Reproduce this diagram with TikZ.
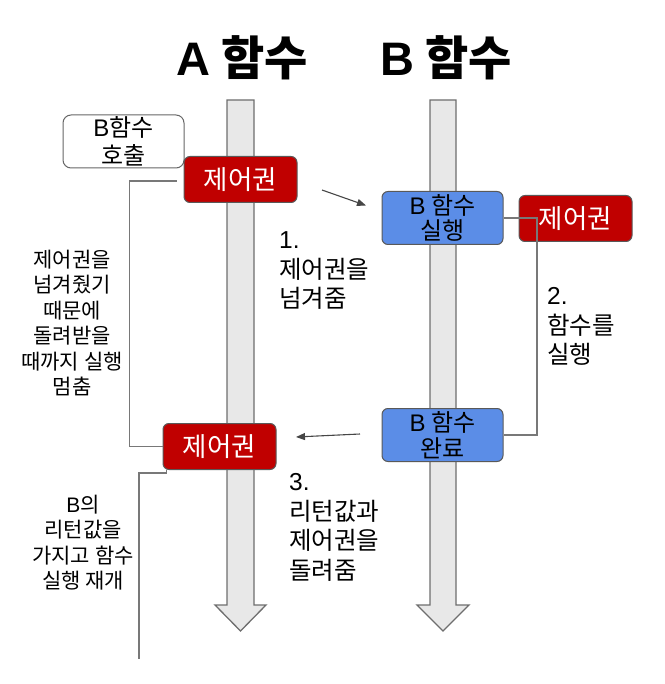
\documentclass[tikz,border=0pt]{standalone}
\usepackage{fontspec}
\setmainfont{Noto Sans CJK KR}
\newfontfamily\latn{Liberation Sans}
\usetikzlibrary{arrows.meta}
\definecolor{redbox}{RGB}{192,0,0}
\definecolor{bluebox}{RGB}{91,141,231}
\definecolor{bigarrow}{RGB}{232,232,232}
\definecolor{bordergray}{RGB}{110,110,110}
\definecolor{linegray}{RGB}{120,120,120}
\definecolor{arrowgray}{RGB}{70,70,70}
\tikzset{
  bigarr/.style={fill=bigarrow, draw=bordergray, line width=1.3pt, line join=miter},
  redctl/.style={rounded corners=6pt, fill=redbox, draw=black!65, line width=1pt, text=white,
    minimum width=113pt, minimum height=46pt, inner sep=0pt, font=\fontsize{26.5}{29}\selectfont},
  bluectl/.style={rounded corners=6pt, fill=bluebox, draw=black!65, line width=1pt, text=black,
    minimum width=121pt, minimum height=53pt, inner sep=0pt, align=center, font=\fontsize{24}{25.5}\selectfont},
  callbox/.style={rounded corners=8pt, fill=white, draw=black!60, line width=1pt,
    minimum width=121pt, minimum height=53pt, inner sep=0pt, align=center, font=\fontsize{24}{28}\selectfont},
  conn/.style={draw=linegray, line width=1.1pt},
  flow/.style={draw=arrowgray, line width=1.1pt, -{Triangle[length=9pt,width=7pt]}},
  smallnote/.style={align=center, inner sep=0pt, font=\fontsize{21}{25.5}\selectfont},
  bignote/.style={align=left, inner sep=0pt, anchor=west, font=\fontsize{24.5}{29.5}\selectfont},
  title/.style={inner sep=0pt, font=\fontsize{47}{50}\selectfont\bfseries}
}
\begin{document}
\begin{tikzpicture}[x=1pt,y=-1pt]
\useasboundingbox (0,0) rectangle (664,684);
% big arrows
\draw[bigarr] (227,100) -- (254,100) -- (254,605) -- (266,605) -- (240.5,631) -- (215,605) -- (227,605) -- cycle;
\draw[bigarr] (430,100) -- (456,100) -- (456,605) -- (469,605) -- (443,631) -- (417,605) -- (430,605) -- cycle;
% titles
\node[title] (ta) at (242.5,58) {{\latn A} 함수};
\node[title] (tb) at (446,58) {{\latn B} 함수};
% boxes
\node[callbox] (call) at (123.5,141.5) {{\latn B}함수\\호출};
\node[redctl] (r1) at (240.5,179.5) {제어권};
\node[redctl] (r2) at (219.5,446.5) {제어권};
\node[bluectl] (b1) at (442.5,218) {{\latn B} 함수\\실행};
\node[redctl] (r3) at (575.5,218.5) {제어권};
\node[bluectl] (b2) at (442.5,435) {{\latn B} 함수\\완료};
% connectors
\draw[conn] ([xshift=-7pt,yshift=-1.5pt]r1.west) -- ++(-47,0) |- (r2.west);
\draw[conn] (b1.east) -- (537,218) |- (b2.east);
\coordinate (tailend) at (139,659);
\draw[conn] ([xshift=4pt]r2.south west) -- ++(0,3) -| (tailend);
% flow arrows
\coordinate (f1s) at (322,190);
\coordinate (f1e) at (366,205.5);
\draw[flow] (f1s) -- (f1e);
\coordinate (f3s) at (360,434);
\coordinate (f3e) at (296,437);
\draw[flow] (f3s) -- (f3e);
% notes
\node[smallnote] (n1) at (72,323) {제어권을\\넘겨줬기\\때문에\\돌려받을\\때까지 실행\\멈춤};
\node[bignote] (n2) at (279,271) {{\latn 1.}\\제어권을\\넘겨줌};
\node[bignote] (n3) at (547,326.5) {{\latn 2.}\\함수를\\실행};
\node[bignote] (n4) at (289,527.5) {{\latn 3.}\\리턴값과\\제어권을\\돌려줌};
\node[smallnote] (n5) at (83,542.5) {{\latn B}의\\리턴값을\\가지고 함수\\실행 재개};
\end{tikzpicture}
\end{document}
